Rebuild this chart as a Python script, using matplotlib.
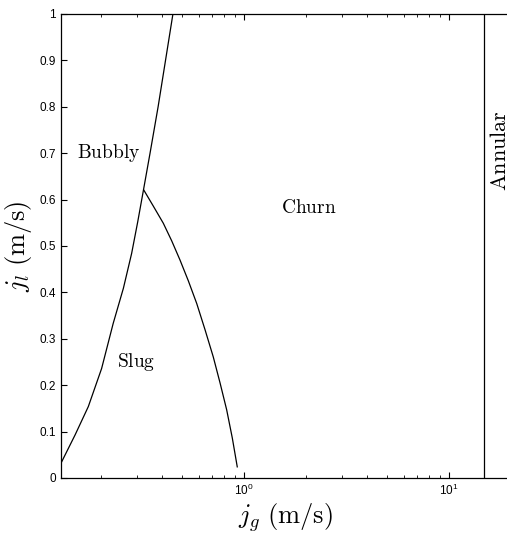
import matplotlib
matplotlib.use("Agg")
import matplotlib.pyplot as plt
import matplotlib.ticker as mt

plt.rcParams["font.family"] = ["Liberation Sans", "DejaVu Sans"]

# flow regime boundaries
bubbly_slug_jg = [0.128, 0.150, 0.174, 0.202, 0.230, 0.258, 0.283, 0.303,
                  0.323, 0.348, 0.381, 0.450]
bubbly_slug_jl = [0.032, 0.093, 0.154, 0.236, 0.333, 0.409, 0.484, 0.552,
                  0.620, 0.700, 0.800, 1.000]
slug_churn_jg = [0.325, 0.361, 0.404, 0.444, 0.487, 0.535, 0.588, 0.645,
                 0.708, 0.764, 0.823, 0.877, 0.927]
slug_churn_jl = [0.620, 0.586, 0.549, 0.511, 0.470, 0.425, 0.376, 0.320,
                 0.261, 0.205, 0.147, 0.086, 0.024]
churn_annular_jg = 14.8

labels = ["Bubbly", "Slug", "Churn", "Annular"]
label_jg = [0.153, 0.24, 1.52, 15.85]
label_jl = [0.701, 0.25, 0.582, 0.705]

xmin, xmax = 0.128, 20.0

fig = plt.figure(figsize=(5.07, 5.36), dpi=100)
ax = fig.add_axes([61 / 507, 58 / 536, 449.7 / 507, 464 / 536])

ax.plot(bubbly_slug_jg, bubbly_slug_jl, color="black", lw=0.9)
ax.plot(slug_churn_jg, slug_churn_jl, color="black", lw=0.9)
ax.axvline(churn_annular_jg, color="black", lw=0.9)

for name, x, y in zip(labels, label_jg, label_jl):
    if name == "Annular":
        # runs off the right edge, as in the original
        ax.text(x, y, r"$\mathrm{%s}$" % name, math_fontfamily="cm", fontsize=16,
                rotation=90, ha="left", va="center", clip_on=False)
    else:
        ax.text(x, y, r"$\mathrm{%s}$" % name, math_fontfamily="cm", fontsize=14,
                ha="left", va="center")

ax.set_xscale("log")
ax.set_xlim(xmin, xmax)
ax.set_ylim(0, 1)
ax.set_yticks([i / 10 for i in range(11)])
ax.yaxis.set_major_formatter(mt.FuncFormatter(lambda v, p: "%g" % v))
ax.xaxis.set_minor_locator(mt.LogLocator(subs=range(2, 10)))
ax.xaxis.set_minor_formatter(mt.NullFormatter())
ax.tick_params(which="both", direction="in", top=True, right=False, labelsize=8.5)
ax.tick_params(which="major", length=4.5, width=0.8)
ax.tick_params(which="minor", length=2.5, width=0.6)
for s in ax.spines.values():
    s.set_linewidth(0.9)

ax.set_xlabel(r"$j_g\ (\mathrm{m/s})$", math_fontfamily="cm", fontsize=19, labelpad=2)
ax.set_ylabel(r"$j_l\ (\mathrm{m/s})$", math_fontfamily="cm", fontsize=19, labelpad=4)

fig.savefig("out.png", dpi=100)
